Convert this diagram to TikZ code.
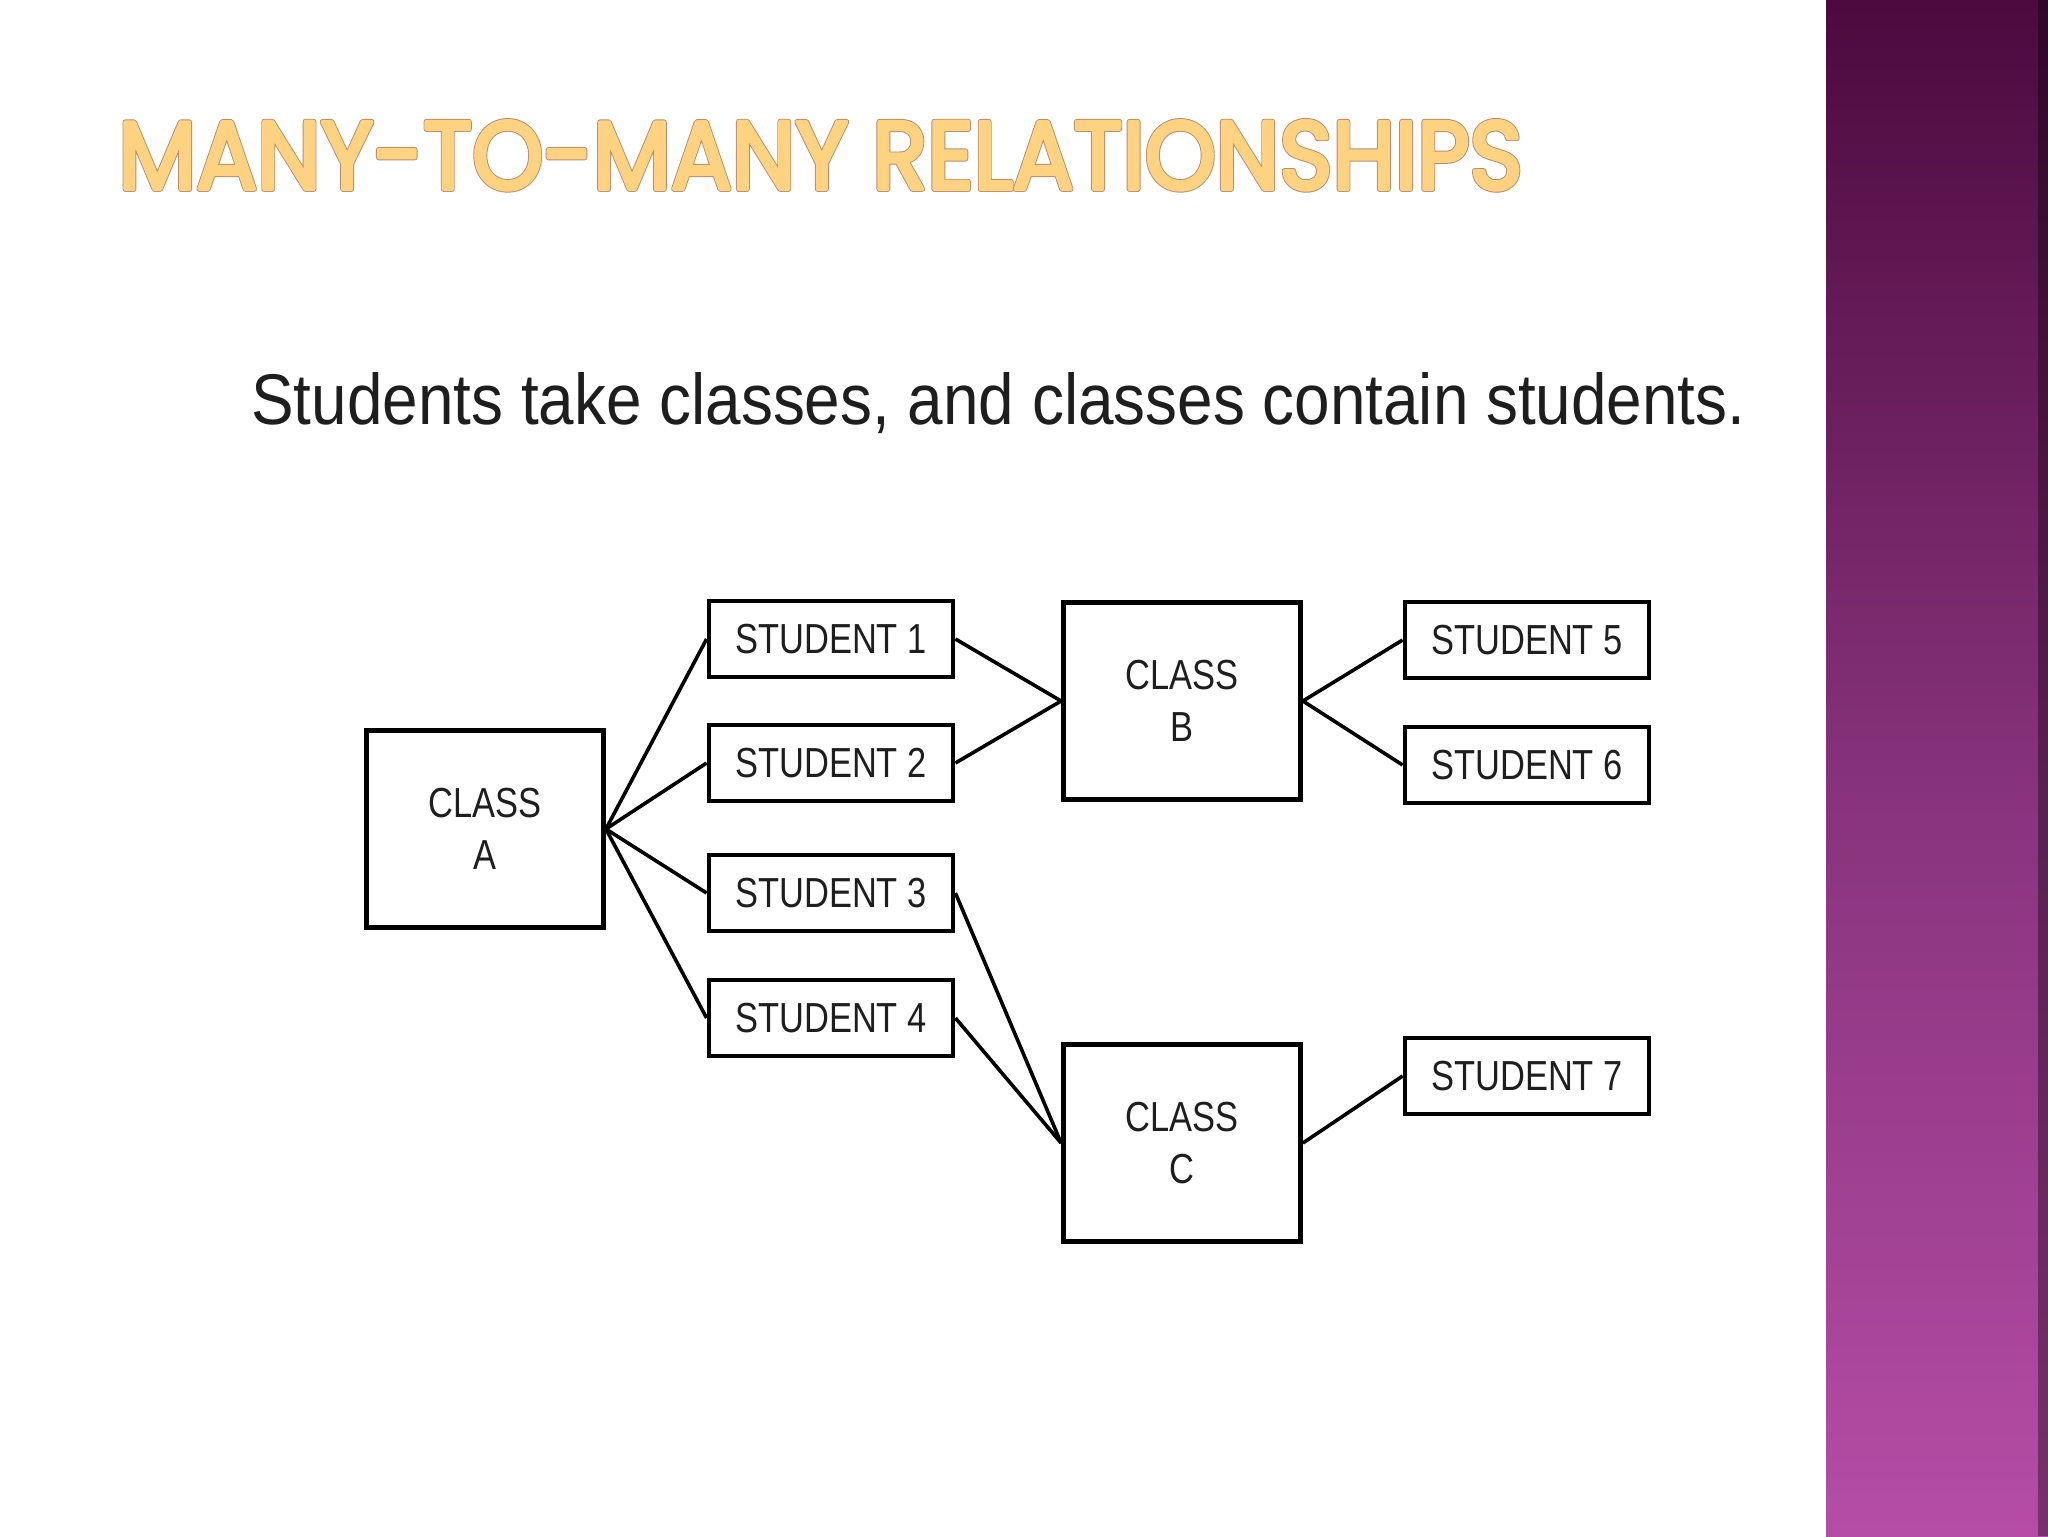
\documentclass[tikz,border=0pt]{standalone}
\usepackage{fontspec}
\setmainfont{Liberation Sans}
\newfontfamily\titlefont{Poppins}
\usepackage{graphicx}
\definecolor{titlefill}{HTML}{FDD382}
\definecolor{diagtext}{HTML}{1E1E1E}
\definecolor{bandtop}{HTML}{4C0A3E}
\definecolor{bandmid}{HTML}{86327A}
\definecolor{bandbot}{HTML}{B54DA6}
\newcommand\myoutlinebrown{\special{pdf:literal direct 2 Tr 0.62 w 1 j 0.725 0.549 0.431 RG}}
\newcommand\myoutlinefill{\special{pdf:literal direct 2 Tr 0.42 w 1 j 0.992 0.827 0.510 RG}}
\newcommand\myoutlineoff{\special{pdf:literal direct 0 Tr}}
\newcommand\titletext{\resizebox{702pt}{34pt}{\titlefont MANY-TO-MANY RELATIONSHIPS}}
\newcommand\sq[1]{\scalebox{0.82}[1]{#1}}
\tikzset{
  studbox/.style={draw=black, line width=2.4pt, fill=white, minimum width=122pt, minimum height=38pt, inner sep=0pt, text=diagtext, font=\fontsize{21}{26}\selectfont},
  classbox/.style={draw=black, line width=2.4pt, fill=white, minimum width=118.5pt, minimum height=98.5pt, inner sep=0pt, align=center, text=diagtext, font=\fontsize{21}{26}\selectfont},
  link/.style={draw=black, line width=1.8pt},
  titlestyle/.style={anchor=base west, inner sep=0pt, text=titlefill}
}
\begin{document}
\begin{tikzpicture}[x=0.5pt,y=-0.5pt]
\useasboundingbox (0,0) rectangle (2048,1536);
\fill[white] (0,0) rectangle (2048,1536);
% purple band
\shade[top color=bandtop, bottom color=bandbot, middle color=bandmid] (1826,0) rectangle (2048,1536);
\fill[black, opacity=0.35] (2038,0) rectangle (2048,1536);
% title: outline layer, then fill layer on top
\node[titlestyle] (titleback) at (118,189) {\myoutlinebrown\titletext\myoutlineoff};
\node[titlestyle] (title) at (118,189) {\myoutlinefill\titletext\myoutlineoff};
% subtitle
\node[anchor=base west, inner sep=0pt, text=diagtext] (sub) at (251,424)
  {\resizebox{747pt}{26pt}{Students take classes, and classes contain students.}};
% nodes
\node[classbox] (A) at (485,829) {\sq{CLASS}\\\sq{A}};
\node[studbox] (s1) at (831,639) {\sq{STUDENT 1}};
\node[studbox] (s2) at (831,763) {\sq{STUDENT 2}};
\node[studbox] (s3) at (831,893) {\sq{STUDENT 3}};
\node[studbox] (s4) at (831,1018) {\sq{STUDENT 4}};
\node[classbox] (B) at (1182,701) {\sq{CLASS}\\\sq{B}};
\node[studbox] (s5) at (1527,640) {\sq{STUDENT 5}};
\node[studbox] (s6) at (1527,765) {\sq{STUDENT 6}};
\node[classbox] (C) at (1182,1143) {\sq{CLASS}\\\sq{C}};
\node[studbox] (s7) at (1527,1076) {\sq{STUDENT 7}};
% connectors
\draw[link] (A.east) -- (s1.west);
\draw[link] (A.east) -- (s2.west);
\draw[link] (A.east) -- (s3.west);
\draw[link] (A.east) -- (s4.west);
\draw[link] (s1.east) -- (B.west);
\draw[link] (s2.east) -- (B.west);
\draw[link] (B.east) -- (s5.west);
\draw[link] (B.east) -- (s6.west);
\draw[link] (s3.east) -- (C.west);
\draw[link] (s4.east) -- (C.west);
\draw[link] (C.east) -- (s7.west);
\end{tikzpicture}
\end{document}
